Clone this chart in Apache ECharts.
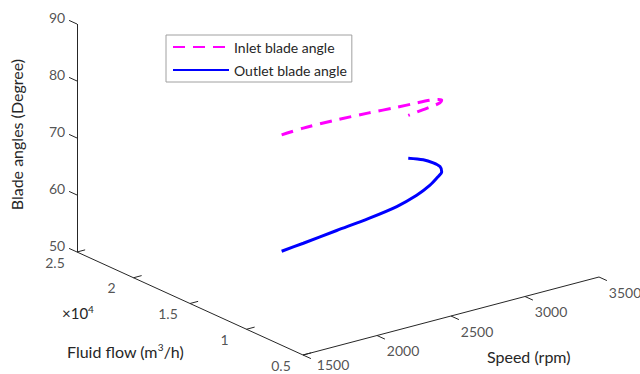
<!DOCTYPE html>
<html>
<head>
<meta charset="utf-8">
<script src="https://cdn.jsdelivr.net/npm/echarts@6/dist/echarts.min.js"></script>
<style>html,body{margin:0;padding:0;background:#fff}#c{width:640px;height:374px}</style>
</head>
<body>
<div id="c"></div>
<script>
// ---- data (3-D curve: speed, fluid flow, blade angle) ----
const speedRpm   = [1500, 1700, 2000, 2300, 2600, 2850, 3050, 3200, 3300, 3380, 3440, 3480, 3500];
const flowM3h    = [6890, 7590, 8570, 9650, 11110, 12620, 14060, 15290, 16300, 17500, 18880, 20290, 21880];
const inletAngle = [86.9, 86.1, 84.6, 82.8, 80.4, 78.1, 75.9, 73.9, 72.2, 70.1, 67.9, 65.7, 63.1];
const outletAngle= [66.5, 65.9, 65.2, 64.3, 63.0, 61.9, 61.0, 60.4, 59.6, 58.9, 57.9, 56.9, 55.6];
const seriesNames = ['Inlet blade angle', 'Outlet blade angle'];
// ---- axis ticks ----
const speedTicks = [1500, 2000, 2500, 3000, 3500];
const flowTicks  = [5000, 10000, 15000, 20000, 25000];
const flowTickLabels = ['0.5', '1', '1.5', '2', '2.5'];
const angleTicks = [50, 60, 70, 80, 90];

// ---- view (oblique projection of the 3-D box onto the page) ----
const view = {
  origin: [77, 252],               // speed 1500, flow 25000, angle 50
  perSpeed: [74 / 500, -19.5 / 500],
  perFlow: [-113 / 10000, -51.5 / 10000],
  perAngle: [0, -5.7]
};
const S0 = 1500, F0 = 25000, A0 = 50;
function P(s, f, a) {
  return [
    view.origin[0] + (s - S0) * view.perSpeed[0] + (f - F0) * view.perFlow[0] + (a - A0) * view.perAngle[0],
    view.origin[1] + (s - S0) * view.perSpeed[1] + (f - F0) * view.perFlow[1] + (a - A0) * view.perAngle[1]
  ];
}
const sMin = 1500, sMax = 3500, fMin = 5000, fMax = 25000, aMin = 50, aMax = 90;
const tickFlow = 700, tickSpeed = 55;

const axisSegs = [];
axisSegs.push([P(sMin, fMax, aMin), P(sMin, fMax, aMax)]);   // angle axis
axisSegs.push([P(sMin, fMax, aMin), P(sMin, fMin, aMin)]);   // flow axis
axisSegs.push([P(sMin, fMin, aMin), P(sMax, fMin, aMin)]);   // speed axis
angleTicks.forEach(a => axisSegs.push([P(sMin, fMax, a), P(sMin, fMax + tickFlow, a)]));
flowTicks.forEach(f => axisSegs.push([P(sMin, f, aMin), P(sMin + tickSpeed, f, aMin)]));
speedTicks.forEach(s => axisSegs.push([P(s, fMin, aMin), P(s, fMin - tickFlow, aMin)]));

const FONT = 'Lato';
const TXT = '#262626';
const labelPts = [];
angleTicks.forEach(a => labelPts.push({ value: P(sMin, fMax, a), label: { formatter: String(a), offset: [-20, -7] } }));
flowTicks.forEach((f, i) => labelPts.push({ value: P(sMin, f, aMin), label: { formatter: flowTickLabels[i], offset: [-22, 10] } }));
speedTicks.forEach((s, i) => labelPts.push({ value: P(s, fMin, aMin), label: { formatter: String(s), offset: i === 0 ? [30, 9] : [26, 15] } }));

const inletPts = speedRpm.map((s, i) => P(s, flowM3h[i], inletAngle[i]));
const outletPts = speedRpm.map((s, i) => P(s, flowM3h[i], outletAngle[i]));

const chart = echarts.init(document.getElementById('c'), null, { renderer: 'svg' });
chart.setOption({
  animation: false,
  backgroundColor: '#fff',
  grid: { left: 0, right: 0, top: 0, bottom: 0 },
  xAxis: { type: 'value', min: 0, max: 640, show: false },
  yAxis: { type: 'value', min: 0, max: 374, inverse: true, show: false },
  legend: {
    data: seriesNames,
    orient: 'vertical', left: 166, top: 35,
    padding: [5, 5, 5, 6], itemGap: 9, itemWidth: 56, itemHeight: 14,
    borderColor: '#a0a0a0', borderWidth: 1, backgroundColor: '#fff',
    itemStyle: { opacity: 0 },
    textStyle: { fontFamily: FONT, fontSize: 14, color: TXT }
  },
  graphic: [
    { type: 'text', left: 8, top: 59, rotation: Math.PI / 2, originX: 0, originY: 0,
      style: { text: 'Blade angles (Degree)', fontFamily: FONT, fontSize: 16, fill: TXT } },
    { type: 'text', x: 62, y: 304,
      style: { text: '×10{s|4}', fontFamily: FONT, fontSize: 15, fill: TXT,
        rich: { s: { fontSize: 10, verticalAlign: 'top', padding: [0, 0, 8, 0], fontFamily: FONT, fill: TXT } } } },
    { type: 'text', x: 67, y: 342,
      style: { text: 'Fluid flow (m{s|3}/h)', fontFamily: FONT, fontSize: 16, fill: TXT,
        rich: { s: { fontSize: 10, verticalAlign: 'top', padding: [0, 0, 8, 0], fontFamily: FONT, fill: TXT } } } },
    { type: 'text', x: 487, y: 348,
      style: { text: 'Speed (rpm)', fontFamily: FONT, fontSize: 16, fill: TXT } }
  ],
  series: [
    { type: 'lines', coordinateSystem: 'cartesian2d', silent: true, z: 1,
      lineStyle: { color: '#262626', width: 1, opacity: 1 },
      data: axisSegs.map(c => ({ coords: c })) },
    { type: 'scatter', silent: true, symbolSize: 0, z: 1,
      label: { show: true, position: 'inside', fontFamily: FONT, fontSize: 14, color: TXT },
      data: labelPts },
    { name: seriesNames[0], type: 'line', data: inletPts, symbol: 'none', smooth: 0.3, z: 3,
      lineStyle: { color: '#ff00ff', width: 3, type: [12, 8] }, itemStyle: { color: '#ff00ff' } },
    { name: seriesNames[1], type: 'line', data: outletPts, symbol: 'none', smooth: 0.3, z: 3,
      lineStyle: { color: '#0000ff', width: 3 }, itemStyle: { color: '#0000ff' } }
  ]
});
</script>
</body>
</html>
